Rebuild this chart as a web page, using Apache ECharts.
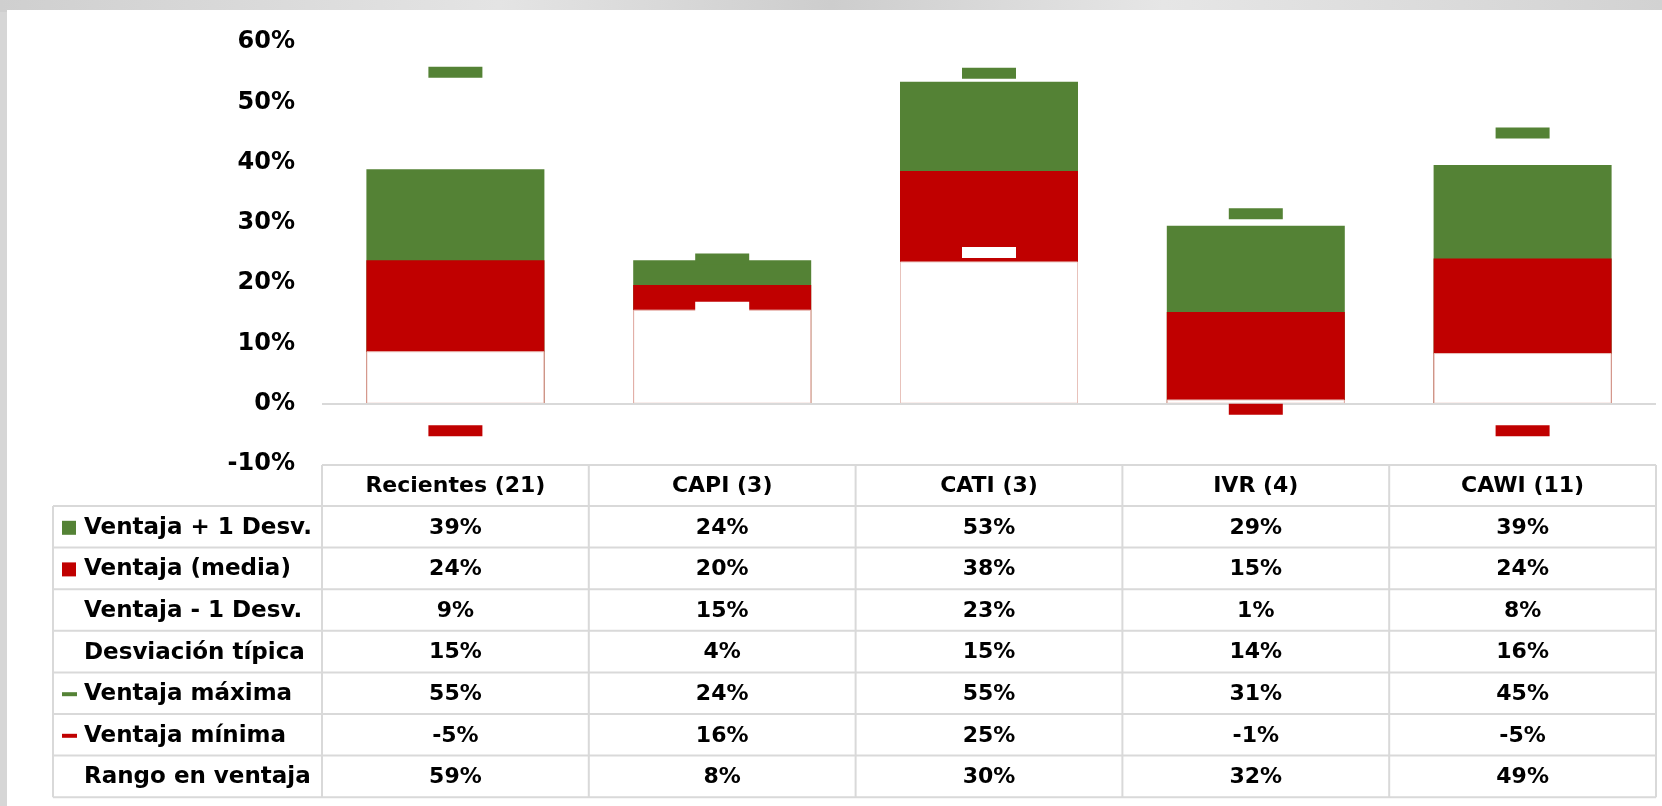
<!DOCTYPE html>
<html>
<head>
<meta charset="utf-8">
<script src="https://cdn.jsdelivr.net/npm/echarts@6/dist/echarts.min.js"></script>
<style>
html,body{margin:0;padding:0;background:#d6d6d6;}
#main{width:1662px;height:806px;}
</style>
</head>
<body>
<div id="main"></div>
<script>
// ---- data ----
const categories = ['Recientes (21)', 'CAPI (3)', 'CATI (3)', 'IVR (4)', 'CAWI (11)'];
const plusDev  = [38.9, 23.8, 53.4, 29.5, 39.6];   // Ventaja + 1 Desv.
const meanAdv  = [23.8, 19.7, 38.6, 15.2, 24.1];   // Ventaja (media)
const minusDev = [8.7, 15.6, 23.6, 0.7, 8.4];      // Ventaja - 1 Desv.
const maxAdv   = [55.0, 24.0, 54.8, 31.5, 44.9];   // Ventaja máxima
const minAdv   = [-4.5, 16.0, 25.1, -0.9, -4.5];   // Ventaja mínima

// table rows as displayed
const rowLabels = ['Ventaja + 1 Desv.', 'Ventaja (media)', 'Ventaja - 1 Desv.', 'Desviación típica', 'Ventaja máxima', 'Ventaja mínima', 'Rango en ventaja'];
const tPlus  = [39, 24, 53, 29, 39];
const tMean  = [24, 20, 38, 15, 24];
const tMinus = [9, 15, 23, 1, 8];
const tStd   = [15, 4, 15, 14, 16];
const tMax   = [55, 24, 55, 31, 45];
const tMin   = [-5, 16, 25, -1, -5];
const tRange = [59, 8, 30, 32, 49];
const tableRows = [tPlus, tMean, tMinus, tStd, tMax, tMin, tRange];

const yMin = -10, yMax = 60, yStep = 10;

// ---- style / layout ----
const GREEN = '#548235', RED = '#C00000';
const FONT = '"DejaVu Sans", sans-serif';
const FS_AXIS = 24, FS_CELL = 22, FS_ROW = 23;
const gridLeft = 322, gridRight = 6, gridTop = 42, gridBottom = 342;
const axisY = 806 - gridBottom;
const tableTop = 465, headerBottom = 506, rowH = 41.6, tableLeft = 53, tableRight = 1656;
const colW = (1662 - gridRight - gridLeft) / categories.length;
const lineColor = '#d9d9d9';

const chart = echarts.init(document.getElementById('main'));

const xAxes = [{
  type: 'category', data: categories, gridIndex: 0, position: 'bottom',
  axisLine: {show: false, onZero: false}, axisTick: {show: false},
  axisLabel: {interval: 0, margin: (tableTop + headerBottom) / 2 - axisY + 1, verticalAlign: 'middle',
    fontFamily: FONT, fontWeight: 'bold', fontSize: FS_CELL, color: '#000'}
}];
tableRows.forEach((row, k) => {
  const center = headerBottom + rowH * k + rowH / 2;
  xAxes.push({
    type: 'category', data: categories, gridIndex: 0, position: 'bottom',
    axisLine: {show: false, onZero: false}, axisTick: {show: false},
    axisLabel: {interval: 0, margin: center - axisY + 1, verticalAlign: 'middle',
      fontFamily: FONT, fontWeight: 'bold', fontSize: FS_CELL, color: '#000',
      formatter: (v, i) => row[i] + '%'}
  });
});

const graphics = [];
// white panel over gray frame
graphics.push({type: 'rect', z: -10, silent: true, shape: {x: 7, y: 10, width: 1662, height: 806},
  style: {fill: '#fff'}});
graphics.push({type: 'rect', z: -11, silent: true, shape: {x: 0, y: 0, width: 1662, height: 12},
  style: {fill: new echarts.graphic.LinearGradient(0, 0, 1, 0, [
    {offset: 0, color: '#cfcfcf'}, {offset: 0.3, color: '#e4e4e4'}, {offset: 0.5, color: '#cdcdcd'},
    {offset: 0.7, color: '#e6e6e6'}, {offset: 1, color: '#d2d2d2'}])}});
// table lines
graphics.push({type: 'line', silent: true, shape: {x1: gridLeft, y1: tableTop, x2: tableRight, y2: tableTop},
  style: {stroke: lineColor, lineWidth: 2}});
for (let k = 0; k <= tableRows.length; k++) {
  const y = headerBottom + rowH * k;
  graphics.push({type: 'line', silent: true, shape: {x1: tableLeft, y1: y, x2: tableRight, y2: y},
    style: {stroke: lineColor, lineWidth: 2}});
}
graphics.push({type: 'line', silent: true, shape: {x1: tableLeft, y1: headerBottom, x2: tableLeft, y2: headerBottom + rowH * tableRows.length},
  style: {stroke: lineColor, lineWidth: 2}});
for (let j = 0; j <= categories.length; j++) {
  const x = gridLeft + colW * j;
  graphics.push({type: 'line', silent: true, shape: {x1: x, y1: tableTop, x2: x, y2: headerBottom + rowH * tableRows.length},
    style: {stroke: lineColor, lineWidth: 2}});
}
// row headers + legend keys
rowLabels.forEach((lab, k) => {
  const cy = headerBottom + rowH * k + rowH / 2 + 1;
  graphics.push({type: 'text', silent: true, x: 84, y: cy,
    style: {text: lab, fontFamily: FONT, fontWeight: 'bold', fontSize: FS_ROW, fill: '#000', verticalAlign: 'middle', align: 'left'}});
  if (k === 0 || k === 1) {
    graphics.push({type: 'rect', silent: true, shape: {x: 62, y: cy - 7, width: 14, height: 14},
      style: {fill: k === 0 ? GREEN : RED}});
  } else if (k === 4 || k === 5) {
    graphics.push({type: 'rect', silent: true, shape: {x: 62, y: cy - 2, width: 15, height: 4},
      style: {fill: k === 4 ? GREEN : RED}});
  }
});

const barW = 178;
const option = {
  animation: false,
  backgroundColor: 'transparent',
  grid: {left: gridLeft, right: gridRight, top: gridTop, bottom: gridBottom, containLabel: false},
  xAxis: xAxes,
  yAxis: {
    type: 'value', min: yMin, max: yMax, interval: yStep,
    axisLine: {show: false}, axisTick: {show: false}, splitLine: {show: false},
    axisLabel: {formatter: '{value}%', margin: 27, fontFamily: FONT, fontWeight: 'bold', fontSize: FS_AXIS, color: '#000'}
  },
  graphic: graphics,
  series: [
    {name: 'Ventaja + 1 Desv.', type: 'bar', data: plusDev, barWidth: barW, barGap: '-100%',
      itemStyle: {color: GREEN}, z: 2,
      markLine: {silent: true, symbol: 'none', label: {show: false},
        lineStyle: {color: lineColor, width: 2, type: 'solid'}, data: [{yAxis: 0}]}},
    {name: 'Ventaja (media)', type: 'bar', data: meanAdv, barWidth: barW, barGap: '-100%',
      itemStyle: {color: RED}, z: 3},
    {name: 'Ventaja - 1 Desv.', type: 'bar', data: minusDev, barWidth: barW, barGap: '-100%',
      itemStyle: {color: '#fff', borderColor: '#e8c2bb', borderWidth: 1}, z: 4},
    {name: 'Ventaja máxima', type: 'scatter', data: maxAdv, symbol: 'rect', symbolSize: [54, 11],
      itemStyle: {color: GREEN, opacity: 1}, z: 6},
    {name: 'Ventaja mínima', type: 'scatter', data: minAdv, symbol: 'rect', symbolSize: [54, 11],
      itemStyle: {opacity: 1, color: p => (p.value > 0 ? '#ffffff' : RED)}, z: 6}
  ]
};
chart.setOption(option);
</script>
</body>
</html>
